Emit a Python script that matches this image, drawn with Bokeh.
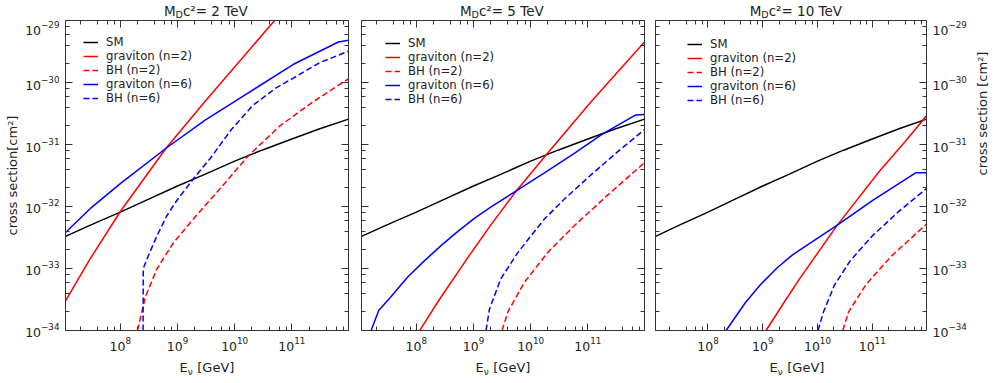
import math
from bokeh.plotting import figure
from bokeh.models import LogAxis, FixedTicker, Label, Range1d, CustomJSTickFormatter
from bokeh.layouts import row, column
from bokeh.embed import file_html
from bokeh.resources import INLINE

# ---------------- data (energy in GeV, cross section in cm^2) ----------------
MD_TEV = [2, 5, 10]

E_SM = [1.1e7, 3e7, 1e8, 3e8, 1e9, 3e9, 1e10, 3e10, 1e11, 3e11, 9.8e11]
S_SM = [3.3e-33, 5.0e-33, 8.1e-33, 1.29e-32, 2.14e-32, 3.3e-32, 5.4e-32, 8.1e-32,
        1.23e-31, 1.78e-31, 2.57e-31]

# M_D c^2 = 2 TeV
E_G2_M2 = [1.1e7, 3e7, 1e8, 6.3e8, 3e9, 5e10, 1e11]
S_G2_M2 = [3.0e-34, 1.45e-33, 8.3e-33, 8.7e-32, 4.9e-31, 1.0e-29, 2.1e-29]
E_B2_M2 = [2.0e8, 2.75e8, 4.4e8, 8.5e8, 1.9e9, 5.6e9, 1.74e10, 6.2e10, 2.3e11, 9.8e11]
S_B2_M2 = [1.0e-34, 3.5e-34, 1.0e-33, 2.6e-33, 6.3e-33, 1.95e-32, 6.6e-32, 2.0e-31,
           4.8e-31, 1.15e-30]
E_G6_M2 = [1.1e7, 3e7, 1e8, 6.3e8, 3e9, 1.6e10, 1.05e11, 6.5e11, 9.8e11]
S_G6_M2 = [3.8e-33, 9.3e-33, 2.34e-32, 8.7e-32, 2.45e-31, 6.5e-31, 1.95e-30, 4.5e-30, 4.8e-30]
E_B6_M2 = [2.5e8, 2.52e8, 3.1e8, 4.4e8, 6.5e8, 9.8e8, 1.9e9, 3.7e9, 8.9e9, 2.1e10,
           5.4e10, 1.05e11, 3.1e11, 9.8e11]
S_B6_M2 = [1.0e-34, 1.0e-33, 1.62e-33, 3.4e-33, 7.1e-33, 1.26e-32, 2.8e-32, 5.9e-32,
           1.78e-31, 4.3e-31, 8.3e-31, 1.17e-30, 2.1e-30, 3.2e-30]

# M_D c^2 = 5 TeV
E_G2_M5 = [1.15e8, 2.5e8, 7.9e8, 2e9, 5.6e9, 1.74e10, 1.12e11, 9.8e11]
S_G2_M5 = [1.0e-34, 3.1e-34, 1.48e-33, 5.0e-33, 1.78e-32, 6.3e-32, 4.8e-31, 4.5e-30]
E_B2_M5 = [3.16e9, 4.0e9, 7.8e9, 2.0e10, 5.8e10, 2.2e11, 9.8e11]
S_B2_M5 = [1.0e-34, 2.0e-34, 6.0e-34, 1.82e-33, 4.9e-33, 1.51e-32, 5.1e-32]
E_G6_M5 = [1.62e7, 2.2e7, 3.6e7, 7e7, 1.41e8, 2.8e8, 5.4e8, 1.05e9, 2.0e9, 5.6e9, 1.74e10,
           5.8e10, 1.82e11, 6.9e11, 9.8e11]
S_G6_M5 = [1.0e-34, 2.1e-34, 3.5e-34, 7.2e-34, 1.35e-33, 2.4e-33, 4.0e-33, 6.5e-33,
           9.8e-33, 1.78e-32, 3.5e-32, 7.2e-32, 1.48e-31, 3.0e-31, 3.05e-31]
E_B6_M5 = [1.66e9, 1.9e9, 3.0e9, 6.0e9, 1.74e10, 3.9e10, 1.12e11, 3.3e11, 9.8e11]
S_B6_M5 = [1.0e-34, 2.2e-34, 6.8e-34, 1.82e-33, 6.3e-33, 1.32e-32, 3.2e-32, 7.6e-32, 1.74e-31]

# M_D c^2 = 10 TeV
E_G2_M10 = [1.15e9, 2.3e9, 4.7e9, 2.3e10, 1.32e11, 4e11, 9.8e11]
S_G2_M10 = [1.0e-34, 2.6e-34, 6.8e-34, 5.0e-33, 3.6e-32, 1.12e-31, 2.9e-31]
E_B2_M10 = [2.9e10, 3.7e10, 7.8e10, 2.3e11, 9.8e11]
S_B2_M10 = [1.0e-34, 2.0e-34, 5.6e-34, 1.62e-33, 5.2e-33]
E_G6_M10 = [2.14e8, 4.8e8, 9.3e8, 1.82e9, 3.5e9, 7.0e9, 2.3e10, 1.02e11, 6.2e11, 9.8e11]
S_G6_M10 = [1.0e-34, 2.8e-34, 5.6e-34, 1.02e-33, 1.66e-33, 2.5e-33, 5.0e-33, 1.26e-32,
            3.5e-32, 3.5e-32]
E_B6_M10 = [1.02e10, 1.29e10, 2.04e10, 4.0e10, 1.02e11, 2.95e11, 9.8e11]
S_B6_M10 = [1.0e-34, 2.0e-34, 5.4e-34, 1.35e-33, 3.4e-33, 8.1e-33, 1.95e-32]

SERIES_LABELS = ["SM", "graviton (n=2)", "BH (n=2)", "graviton (n=6)", "BH (n=6)"]

X_LIMITS = (1.1e7, 9.8e11)
Y_LIMITS = (0.999e-34, 1.001e-29)

X_MAJOR = [1e8, 1e9, 1e10, 1e11]
X_MINOR = [m * float(f"1e{k}") for k in range(7, 12) for m in (2, 4, 6, 8)]
Y_MAJOR = [float(f"1e{k}") for k in range(-34, -28)]
Y_MINOR = [m * float(f"1e{k}") for k in range(-34, -29) for m in (2, 4, 6, 8)]

# ---------------- layout / styling ----------------
FONT = "DejaVu Sans"
FRAME_COLOR = "#333333"
TEXT_COLOR = "#222222"
TOTAL_W = 1000
FRAME_W = 283
FRAME_H = 310
TITLE_H = 20
MAIN_TOP = 0
MAIN_BOTTOM = 24
MAIN_H = MAIN_TOP + FRAME_H + MAIN_BOTTOM
XLAB_H = 28
BORDERS = [(65, 6), (7, 5), (6, 62)]          # (left, right) border of each panel
MID = 0.35                                    # baseline -> text-middle offset (em)

EM = {"M": 0.863, "D": 0.770, "c": 0.550, "²": 0.401, "=": 0.838, " ": 0.318,
      "0": 0.636, "1": 0.636, "2": 0.636, "5": 0.636, "T": 0.611, "e": 0.615,
      "V": 0.684, "E": 0.632, "ν": 0.592, "[": 0.390, "G": 0.775, "]": 0.390}


def text_width(s, size):
    return sum(EM[ch] for ch in s) * size


def style_axis(ax, major, minor, labelled):
    ax.ticker = FixedTicker(ticks=major, minor_ticks=minor)
    ax.axis_line_color = FRAME_COLOR
    ax.axis_line_width = 1
    ax.major_tick_line_color = FRAME_COLOR
    ax.minor_tick_line_color = FRAME_COLOR
    ax.major_tick_in = 7
    ax.major_tick_out = 0
    ax.minor_tick_in = 4
    ax.minor_tick_out = 0
    ax.major_label_text_font = FONT
    ax.major_label_text_color = TEXT_COLOR
    if labelled:
        ax.major_label_text_font_size = "12.5px"
        ax.major_label_standoff = 6
    else:
        ax.formatter = CustomJSTickFormatter(code="return ''")
        ax.major_label_text_font_size = "1px"
        ax.major_label_standoff = 0
    ax.axis_label_text_font = FONT
    ax.axis_label_text_font_size = "13px"
    ax.axis_label_text_font_style = "normal"
    ax.axis_label_text_color = TEXT_COLOR


def add_text(p, strip_h, x, baseline_from_top, text, size):
    """Place text so that its baseline sits baseline_from_top px below the strip top."""
    mid = baseline_from_top - MID * size
    p.add_layout(Label(x=x, y=strip_h - mid, x_units="screen", y_units="screen", text=text,
                       text_font=FONT, text_font_size=f"{size}px", text_color=TEXT_COLOR,
                       text_align="left", text_baseline="middle"))


def panel(curves, legend_pos, b_left, b_right, left_labels, right_labels):
    p = figure(width=b_left + FRAME_W + b_right, height=MAIN_H,
               x_axis_type="log", y_axis_type="log",
               x_range=Range1d(*X_LIMITS), y_range=Range1d(*Y_LIMITS),
               toolbar_location=None, output_backend="svg", title=None,
               min_border_left=b_left, min_border_right=b_right,
               min_border_top=MAIN_TOP, min_border_bottom=MAIN_BOTTOM)
    p.grid.visible = False
    p.outline_line_color = None
    p.background_fill_color = "white"
    p.border_fill_color = "white"

    top = LogAxis()
    right = LogAxis()
    p.add_layout(top, "above")
    p.add_layout(right, "right")
    style_axis(p.below[0], X_MAJOR, X_MINOR, True)
    style_axis(top, X_MAJOR, X_MINOR, False)
    style_axis(p.left[0], Y_MAJOR, Y_MINOR, left_labels)
    style_axis(right, Y_MAJOR, Y_MINOR, right_labels)
    if left_labels:
        p.left[0].axis_label = "cross section[cm²]"
        p.left[0].axis_label_standoff = 2
    if right_labels:
        right.axis_label = "cross section [cm²]"
        right.axis_label_standoff = 13
        right.axis_label_orientation = math.pi / 2

    styles = [("black", "solid"), ("red", "solid"), ("red", "6 3"),
              ("blue", "solid"), ("blue", "6 3")]
    for (xs, ys), (color, dash), lab in zip(curves, styles, SERIES_LABELS):
        p.line(xs, ys, line_color=color, line_width=1.5, line_dash=dash, legend_label=lab)

    lg = p.legend[0]
    lg.location = legend_pos
    lg.padding = 0
    lg.margin = 0
    lg.spacing = 0
    lg.glyph_width = 15
    lg.glyph_height = 14
    lg.label_height = 14
    lg.label_standoff = 8
    lg.label_text_font = FONT
    lg.label_text_font_size = "11.7px"
    lg.label_text_color = TEXT_COLOR
    lg.border_line_color = None
    lg.background_fill_alpha = 0
    return p


def text_strip(height):
    f = figure(width=TOTAL_W, height=height, x_range=Range1d(0, TOTAL_W),
               y_range=Range1d(0, height), toolbar_location=None, output_backend="svg",
               title=None, x_axis_location=None, y_axis_location=None,
               min_border=0, min_border_left=0, min_border_right=0,
               min_border_top=0, min_border_bottom=0)
    f.grid.visible = False
    f.outline_line_color = None
    f.background_fill_color = "white"
    f.border_fill_color = "white"
    return f


all_curves = [
    [(E_SM, S_SM), (E_G2_M2, S_G2_M2), (E_B2_M2, S_B2_M2), (E_G6_M2, S_G6_M2), (E_B6_M2, S_B6_M2)],
    [(E_SM, S_SM), (E_G2_M5, S_G2_M5), (E_B2_M5, S_B2_M5), (E_G6_M5, S_G6_M5), (E_B6_M5, S_B6_M5)],
    [(E_SM, S_SM), (E_G2_M10, S_G2_M10), (E_B2_M10, S_B2_M10), (E_G6_M10, S_G6_M10), (E_B6_M10, S_B6_M10)],
]
legend_positions = [(18, 225), (24, 224), (32, 223)]

panels = []
centers = []
x_cursor = 0
for i, (bl, br) in enumerate(BORDERS):
    panels.append(panel(all_curves[i], legend_positions[i], bl, br, i == 0, i == 2))
    centers.append(x_cursor + bl + FRAME_W / 2)
    x_cursor += bl + FRAME_W + br

# titles  M_D c^2 = .. TeV
titles = text_strip(TITLE_H)
s_main, s_sub = 13.5, 9.5
for md, cx in zip(MD_TEV, centers):
    rest = f"c²= {md} TeV"
    w_m = EM["M"] * s_main
    w_d = EM["D"] * s_sub
    total = w_m + w_d + text_width(rest, s_main)
    x0 = cx - total / 2
    add_text(titles, TITLE_H, x0, 15.5, "M", s_main)
    add_text(titles, TITLE_H, x0 + w_m, 17, "D", s_sub)
    add_text(titles, TITLE_H, x0 + w_m + w_d, 15.5, rest, s_main)

# x labels  E_nu [GeV]
xlabels = text_strip(XLAB_H)
s_x, s_xs = 13, 9
for cx in centers:
    w_e = EM["E"] * s_x
    w_nu = EM["ν"] * s_xs
    w_sp = EM[" "] * s_x
    rest_x = "[GeV]"
    total = w_e + w_nu + w_sp + text_width(rest_x, s_x)
    x0 = cx - total / 2
    add_text(xlabels, XLAB_H, x0, 17.7, "E", s_x)
    add_text(xlabels, XLAB_H, x0 + w_e, 20.2, "ν", s_xs)
    add_text(xlabels, XLAB_H, x0 + w_e + w_nu + w_sp, 17.7, rest_x, s_x)

layout = column(titles, row(*panels), xlabels)
open("out.html", "w").write(file_html(layout, INLINE))
